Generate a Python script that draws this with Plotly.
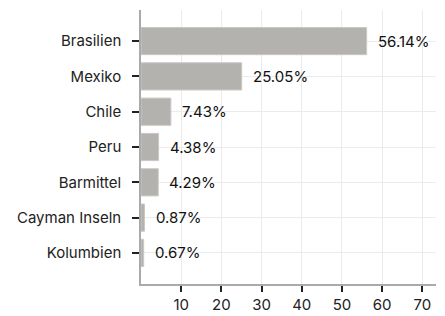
import plotly.graph_objects as go

categories = ["Brasilien", "Mexiko", "Chile", "Peru", "Barmittel", "Cayman Inseln", "Kolumbien"]
values = [56.14, 25.05, 7.43, 4.38, 4.29, 0.87, 0.67]
labels = ["56.14%", "25.05%", "7.43%", "4.38%", "4.29%", "0.87%", "0.67%"]
x_ticks = [10, 20, 30, 40, 50, 60, 70]

FONT = "Inter, Roboto, sans-serif"
FS = 15

fig = go.Figure()
fig.add_trace(go.Bar(
    x=values, y=categories, orientation="h",
    marker=dict(color="#b3b2ae", line=dict(color="#c9c8c5", width=1)),
    width=0.77, hoverinfo="skip",
))
for v, c, t in zip(values, categories, labels):
    fig.add_annotation(x=v, y=c, text=t, showarrow=False, xanchor="left",
                       xshift=9, font=dict(family=FONT, size=FS, color="#111"))

fig.update_layout(
    width=445, height=316,
    margin=dict(l=141, r=9, t=10, b=32, autoexpand=False),
    paper_bgcolor="white", plot_bgcolor="white",
    showlegend=False,
    font=dict(family=FONT, size=FS, color="#111"),
    xaxis=dict(range=[0, 73.4], tickvals=x_ticks, showgrid=True, automargin=False,
               gridcolor="#ebebeb", gridwidth=1, zeroline=False,
               showline=True, linecolor="#aaaaaa", linewidth=1.5,
               ticks="outside", ticklen=6, tickwidth=1.5, tickcolor="#222",
               tickfont=dict(size=FS, color="#222")),
    yaxis=dict(categoryorder="array", categoryarray=categories, automargin=False,
               autorange=False, range=[6.88, -0.88],
               showgrid=True, gridcolor="#ebebeb", gridwidth=1, zeroline=False,
               showline=True, linecolor="#aaaaaa", linewidth=1.5,
               ticks="outside", ticklen=7, tickwidth=1.5, tickcolor="#222",
               ticklabelstandoff=8,
               tickfont=dict(size=FS, color="#222")),
)
fig.write_html("out.html", config={"displayModeBar": False},
               post_script="document.body.style.margin='0px';document.body.style.overflow='hidden';")
